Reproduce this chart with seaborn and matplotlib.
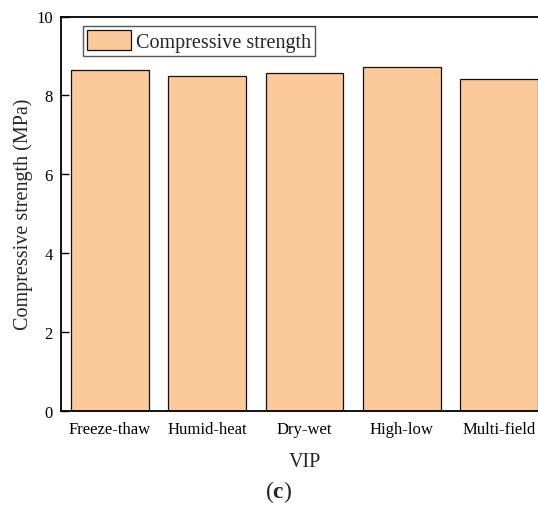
import matplotlib
matplotlib.use("Agg")
import matplotlib.pyplot as plt
import seaborn as sns
import pandas as pd

# Compressive strength of VIP specimens after each conditioning regime
conditions = ["Freeze-thaw", "Humid-heat", "Dry-wet", "High-low", "Multi-field"]
strength_mpa = [8.64, 8.49, 8.58, 8.73, 8.41]
y_ticks = [0, 2, 4, 6, 8, 10]

bar_color = "#FCC99A"

sns.set_theme(style="ticks")
plt.rcParams["font.family"] = ["Liberation Serif", "DejaVu Serif"]
plt.rcParams["mathtext.fontset"] = "custom"
plt.rcParams["mathtext.rm"] = "Liberation Serif"
plt.rcParams["mathtext.bf"] = "Liberation Serif:bold"

df = pd.DataFrame({"condition": conditions, "strength": strength_mpa})

fig = plt.figure(figsize=(5.38, 5.06), dpi=100)
W, H = 538, 506
left, right, top, bottom = 61, 548, 17.5, 412
ax = fig.add_axes([left / W, (H - bottom) / H, (right - left) / W, (bottom - top) / H])

sns.barplot(data=df, x="condition", y="strength", color=bar_color, saturation=1,
            edgecolor="#111111", linewidth=0.9, width=0.8,
            label="Compressive strength", ax=ax)

ax.set_xlim(-0.5, 4.5)
ax.set_ylim(0, 10)
ax.set_yticks(y_ticks)
ax.set_xlabel("VIP", fontsize=14.5, labelpad=11)
ax.set_ylabel("Compressive strength (MPa)", fontsize=14.5, labelpad=2)
ax.tick_params(axis="both", direction="in", length=6, width=1, colors="black",
               labelsize=12)
ax.tick_params(axis="y", pad=6)
ax.tick_params(axis="x", pad=7)
for s in ax.spines.values():
    s.set_visible(True)
    s.set_linewidth(1.3)
    s.set_color("black")

leg = ax.legend(loc="upper left", bbox_to_anchor=(0.045, 0.975), borderaxespad=0,
                fontsize=14.5, frameon=True, fancybox=False, framealpha=1,
                edgecolor="#555555", handlelength=2.2, handleheight=1.1,
                handletextpad=0.25, borderpad=0.2)
leg.get_frame().set_linewidth(1.0)

fig.text(279 / W, (H - 492) / H, r"($\mathbf{c}$)", ha="center", va="center",
         fontsize=17)

fig.savefig("out.png", dpi=100, facecolor="white")
